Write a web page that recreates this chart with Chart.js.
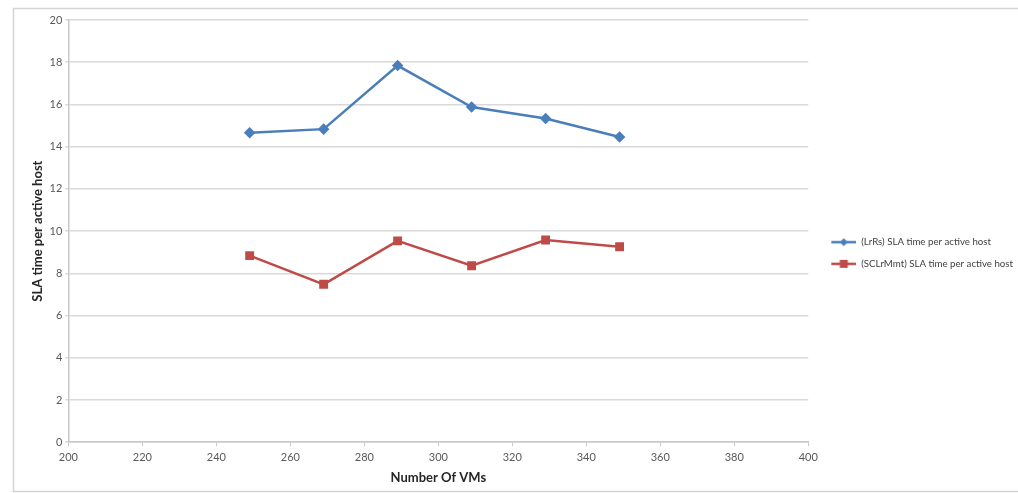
<!DOCTYPE html>
<html>
<head>
<meta charset="utf-8">
<script src="https://cdn.jsdelivr.net/npm/chart.js@4/dist/chart.umd.min.js"></script>
<style>
  html, body { margin: 0; padding: 0; background: #ffffff; }
  #wrap { width: 1018px; height: 493px; position: relative; }
</style>
</head>
<body>
<div id="wrap"><canvas id="sla"></canvas></div>
<script>
// data
var vmCounts = [249, 269, 289, 309, 329, 349];
var lrrsSla = [14.66, 14.83, 17.84, 15.88, 15.33, 14.46];
var sclrmmtSla = [8.84, 7.48, 9.54, 8.36, 9.58, 9.26];
var seriesNames = ['(LrRs) SLA time per active host', '(SCLrMmt) SLA time per active host'];
var seriesColors = ['#4a7ebb', '#be4b48'];

function toPoints(xs, ys) {
    return xs.map(function(x, i) { return { x: x, y: ys[i] }; });
}

// excel style legend key: short line with the marker in the middle
// (left part of the canvas is left empty to push the key away from the plot)
function legendKey(color, shape) {
    var c = document.createElement('canvas');
    c.width = 36;
    c.height = 10;
    var ctx = c.getContext('2d');
    ctx.strokeStyle = color;
    ctx.fillStyle = color;
    ctx.lineWidth = 2.5;
    ctx.beginPath();
    ctx.moveTo(11, 5);
    ctx.lineTo(36, 5);
    ctx.stroke();
    ctx.beginPath();
    if (shape === 'diamond') {
        ctx.moveTo(23.5, 1); ctx.lineTo(27.5, 5); ctx.lineTo(23.5, 9); ctx.lineTo(19.5, 5);
        ctx.closePath();
    } else {
        ctx.rect(19.5, 1, 8, 8);
    }
    ctx.fill();
    return c;
}
var legendKeys = [legendKey(seriesColors[0], 'diamond'), legendKey(seriesColors[1], 'square')];

// light frame round the whole chart, like the Excel chart area
var frame = {
    id: 'frame',
    beforeDraw: function(chart) {
        var ctx = chart.ctx;
        ctx.save();
        ctx.strokeStyle = '#d4d4d4';
        ctx.lineWidth = 1.5;
        ctx.strokeRect(13.5, 8.5, 1010, 483);
        ctx.restore();
    }
};

Chart.defaults.font.family = 'Lato, "Open Sans", sans-serif';

var slaChart = new Chart(document.getElementById('sla'), {
    type: 'line',
    data: {
        datasets: [{
            label: seriesNames[0],
            data: toPoints(vmCounts, lrrsSla),
            borderColor: seriesColors[0],
            backgroundColor: seriesColors[0],
            borderWidth: 2.5,
            pointStyle: 'rectRot',
            pointRadius: 4,
            tension: 0
        }, {
            label: seriesNames[1],
            data: toPoints(vmCounts, sclrmmtSla),
            borderColor: seriesColors[1],
            backgroundColor: seriesColors[1],
            borderWidth: 2.5,
            pointStyle: 'rect',
            pointRadius: 4.5,
            tension: 0
        }]
    },
    options: {
        responsive: true,
        maintainAspectRatio: false,
        animation: false,
        layout: {
            padding: { left: 30, top: 20, right: -5, bottom: 7 }
        },
        scales: {
            x: {
                type: 'linear',
                min: 200,
                max: 400,
                ticks: { stepSize: 20, color: '#595959', font: { size: 11 }, padding: 5 },
                grid: { drawOnChartArea: false, drawTicks: true, tickLength: 4, color: '#c8c8c8' },
                border: { color: '#c8c8c8', width: 1.5 },
                title: {
                    display: true,
                    text: 'Number Of VMs',
                    color: '#262626',
                    font: { size: 13, weight: 'bold' },
                    padding: { top: 1, bottom: 0 }
                }
            },
            y: {
                min: 0,
                max: 20,
                ticks: { stepSize: 2, color: '#595959', font: { size: 11 }, padding: 3 },
                grid: { color: '#d9d9d9', lineWidth: 1.5, tickLength: 3 },
                border: { color: '#c8c8c8', width: 1.5 },
                title: {
                    display: true,
                    text: 'SLA time per active host',
                    color: '#262626',
                    font: { size: 13, weight: 'bold' },
                    padding: { top: 0, bottom: 1 }
                }
            }
        },
        plugins: {
            legend: {
                display: true,
                position: 'right',
                align: 'center',
                labels: {
                    usePointStyle: true,
                    pointStyleWidth: 36,
                    padding: 12,
                    color: '#404040',
                    font: { size: 9.7 },
                    generateLabels: function(chart) {
                        var items = Chart.defaults.plugins.legend.labels.generateLabels(chart);
                        items.forEach(function(item, i) { item.pointStyle = legendKeys[i]; });
                        return items;
                    }
                }
            },
            tooltip: { enabled: false }
        }
    },
    plugins: [frame]
});
</script>
</body>
</html>
